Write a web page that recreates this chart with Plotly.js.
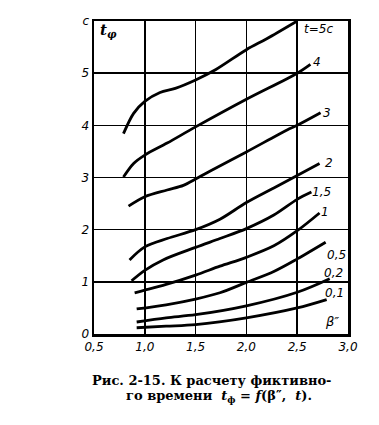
<!DOCTYPE html>
<html><head><meta charset="utf-8">
<script src="https://cdn.plot.ly/plotly-3.0.1.min.js"></script>
<style>html,body{margin:0;padding:0;background:#fff;}#chart{width:379px;height:425px;}</style>
</head><body><div id="chart"></div>
<script>
// Data (beta'' on x, t_phi in seconds on y)
const beta5 = [0.79,0.89,1.0,1.15,1.3,1.5,1.7,2.0,2.2,2.5];
const tf5   = [3.84,4.23,4.46,4.63,4.71,4.87,5.07,5.45,5.66,6.0];
const beta4 = [0.79,0.89,1.0,1.22,1.5,2.0,2.5,2.63];
const tf4   = [3.01,3.27,3.43,3.66,3.97,4.5,5.0,5.17];
const beta3 = [0.84,1.0,1.22,1.38,1.5,1.64,2.0,2.4,2.5,2.73];
const tf3   = [2.45,2.63,2.76,2.85,2.97,3.12,3.49,3.91,4.0,4.24];
const beta2 = [0.85,1.0,1.22,1.5,1.74,2.0,2.27,2.5,2.72];
const tf2   = [1.42,1.67,1.83,2.0,2.2,2.52,2.8,3.04,3.27];
const beta15 = [0.87,1.0,1.18,1.5,1.74,2.0,2.27,2.5,2.64];
const tf15   = [1.02,1.22,1.42,1.66,1.83,2.02,2.28,2.58,2.72];
const beta1 = [0.90,1.0,1.21,1.5,1.74,2.0,2.27,2.5,2.72];
const tf1   = [0.79,0.84,0.95,1.13,1.30,1.47,1.69,1.98,2.32];
const beta05 = [0.92,1.21,1.5,1.74,2.0,2.27,2.5,2.78];
const tf05   = [0.48,0.56,0.67,0.79,0.99,1.2,1.44,1.76];
const beta02 = [0.92,1.21,1.5,2.0,2.5,2.82];
const tf02   = [0.23,0.31,0.37,0.54,0.80,1.06];
const beta01 = [0.92,1.21,1.5,2.0,2.5,2.79];
const tf01   = [0.12,0.15,0.18,0.31,0.50,0.66];

const curveLabels = ["t=5c","4","3","2","1,5","1","0,5","0,2","0,1"];
const labelX = [2.71,2.69,2.79,2.81,2.74,2.77,2.89,2.86,2.87];
const labelY = [5.84,5.22,4.23,3.27,2.73,2.34,1.51,1.16,0.78];

const xTickVals = [0.5,1.0,1.5,2.0,2.5,3.0];
const xTickText = ["0,5","1,0","1,5","2,0","2,5","3,0"];
const yTickVals = [0,1,2,3,4,5,6];
const yTickText = ["0","1","2","3","4","5","c"];

const series = [[beta5,tf5],[beta4,tf4],[beta3,tf3],[beta2,tf2],[beta15,tf15],[beta1,tf1],[beta05,tf05],[beta02,tf02],[beta01,tf01]];
const traces = series.map(s => ({
  x: s[0], y: s[1], type: 'scatter', mode: 'lines',
  line: {color: '#000', width: 2.8, shape: 'spline', smoothing: 0.9},
  hoverinfo: 'skip', showlegend: false
}));

const italic = {family: 'DejaVu Sans, sans-serif', size: 12, color: '#000', style: 'italic'};
const annotations = curveLabels.map((t, i) => ({
  x: labelX[i], y: labelY[i], xref: 'x', yref: 'y', text: t, showarrow: false,
  font: italic, xanchor: 'center', yanchor: 'middle'
}));
annotations.push({x: 2.84, y: 0.24, xref: 'x', yref: 'y', text: 'β″', showarrow: false,
  font: {family: 'DejaVu Sans, sans-serif', size: 13, color: '#000', style: 'italic'}});
annotations.push({x: 0.64, y: 5.82, xref: 'x', yref: 'y', text: 't<sub>φ</sub>', showarrow: false,
  font: {family: 'DejaVu Serif, serif', size: 15, color: '#000', style: 'italic', weight: 'bold'}});
const capFont = {family: 'DejaVu Serif, serif', size: 13, color: '#000', weight: 'bold'};
annotations.push({xref: 'paper', yref: 'paper', x: -0.016, y: -0.150, xanchor: 'left', yanchor: 'middle',
  text: 'Рис. 2-15. К расчету фиктивно-', showarrow: false, font: capFont});
annotations.push({xref: 'paper', yref: 'paper', x: 0.492, y: -0.201, xanchor: 'center', yanchor: 'middle',
  text: 'го времени\u00A0 <i>t</i><sub>ф</sub>\u00A0=\u00A0<i>f</i>(β″,\u00A0 <i>t</i>).', showarrow: false, font: capFont});

const layout = {
  width: 379, height: 425,
  margin: {l: 94, r: 31, t: 21, b: 91},
  paper_bgcolor: '#fff', plot_bgcolor: '#fff',
  xaxis: {range: [0.5, 3.0], tickvals: xTickVals, ticktext: xTickText, showgrid: true,
    gridcolor: '#000', gridwidth: 1.6, zeroline: false, showline: true, linecolor: '#000',
    linewidth: 2.5, mirror: true, ticks: '', tickfont: italic, fixedrange: true},
  yaxis: {range: [0, 6], tickvals: yTickVals, ticktext: yTickText, showgrid: true,
    gridcolor: '#000', gridwidth: 1.6, zeroline: false, showline: true, linecolor: '#000',
    linewidth: 2.5, mirror: true, ticks: '', tickfont: italic, fixedrange: true},
  annotations: annotations
};
Plotly.newPlot('chart', traces, layout, {staticPlot: true, displayModeBar: false});
</script></body></html>
